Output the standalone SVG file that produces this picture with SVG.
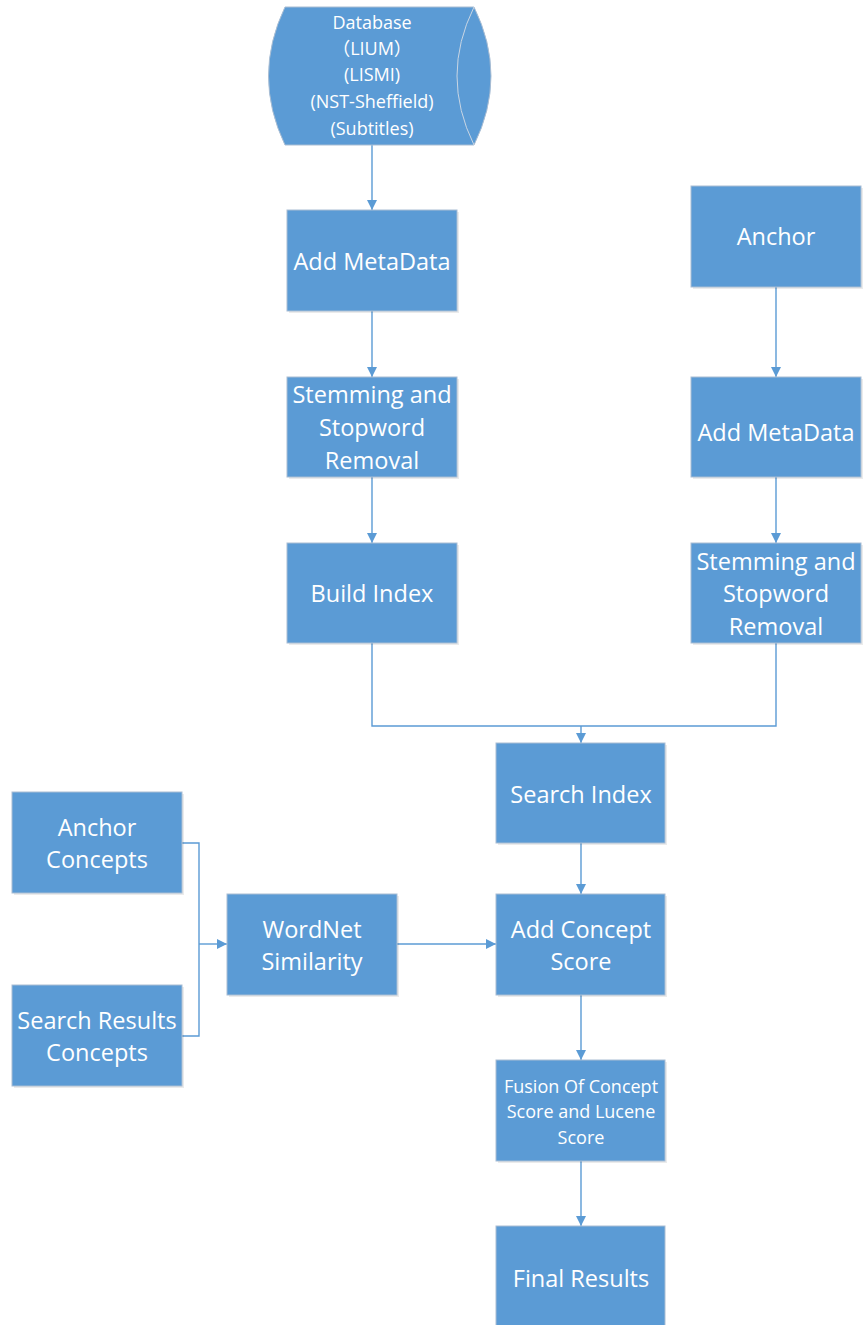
<svg xmlns="http://www.w3.org/2000/svg" width="863" height="1325" viewBox="0 0 863 1325">
  <style>
    .box { fill: #5b9bd5; stroke: #a9bdd3; stroke-width: 1; }
    .shadow { fill: #000; opacity: 0.08; }
    .lbl { fill: #ffffff; font-family: "Open Sans", "Liberation Sans", "Noto Sans CJK SC", sans-serif; font-size: 23.5px; text-anchor: middle; }
    .sm { font-size: 18px; }
    .db { font-size: 18px; }
    .cjk { font-family: "Noto Sans CJK SC", sans-serif; }
    .wire { fill: none; stroke: #5b9bd5; stroke-width: 1.4; }
  </style>
  <defs>
    <marker id="arr" viewBox="0 0 10 10" refX="10" refY="5" markerWidth="10" markerHeight="10" markerUnits="userSpaceOnUse" orient="auto">
      <path d="M0,0 L10,5 L0,10 Z" fill="#5b9bd5"/>
    </marker>
  </defs>

  <!-- connectors -->
  <g id="connectors">
    <path class="wire" d="M372,145 V210" marker-end="url(#arr)"/>
    <path class="wire" d="M372,311 V377" marker-end="url(#arr)"/>
    <path class="wire" d="M372,477 V543" marker-end="url(#arr)"/>
    <path class="wire" d="M776,287 V377" marker-end="url(#arr)"/>
    <path class="wire" d="M776,477 V543" marker-end="url(#arr)"/>
    <path class="wire" d="M372,643 V726 H776 V643"/>
    <path class="wire" d="M581,726 V743" marker-end="url(#arr)"/>
    <path class="wire" d="M581,843 V894" marker-end="url(#arr)"/>
    <path class="wire" d="M581,995 V1060" marker-end="url(#arr)"/>
    <path class="wire" d="M581,1161 V1226" marker-end="url(#arr)"/>
    <path class="wire" d="M182,843 H199 V1036 H182"/>
    <path class="wire" d="M199,944 H227" marker-end="url(#arr)"/>
    <path class="wire" d="M397,944 H496" marker-end="url(#arr)"/>
  </g>

  <!-- database cylinder -->
  <g id="database">
    <path class="box" d="M285,7 H474 Q508,76 474,145 H285 Q252,76 285,7 Z"/>
    <path d="M474,7 Q440,76 474,145" fill="none" stroke="#c9d6e4" stroke-width="1"/>
    <text class="lbl db" x="372" y="29">Database</text>
    <text class="lbl db" x="372" y="55"><tspan class="cjk">（</tspan>LIUM<tspan class="cjk">）</tspan></text>
    <text class="lbl db" x="372" y="81">(LISMI)</text>
    <text class="lbl db" x="372" y="108">(NST-Sheffield)</text>
    <text class="lbl db" x="372" y="135">(Subtitles)</text>
  </g>

  <g id="add-metadata-1">
    <rect class="shadow" x="289" y="212" width="170" height="101"/>
    <rect class="box" x="287" y="210" width="170" height="101"/>
    <text class="lbl" x="372" y="270">Add MetaData</text>
  </g>
  <g id="stemming-1">
    <rect class="shadow" x="289" y="379" width="170" height="100"/>
    <rect class="box" x="287" y="377" width="170" height="100"/>
    <text class="lbl" x="372" y="403">Stemming and</text>
    <text class="lbl" x="372" y="436">Stopword</text>
    <text class="lbl" x="372" y="469">Removal</text>
  </g>
  <g id="build-index">
    <rect class="shadow" x="289" y="545" width="170" height="100"/>
    <rect class="box" x="287" y="543" width="170" height="100"/>
    <text class="lbl" x="372" y="602">Build Index</text>
  </g>

  <g id="anchor">
    <rect class="shadow" x="693" y="188" width="170" height="101"/>
    <rect class="box" x="691" y="186" width="170" height="101"/>
    <text class="lbl" x="776" y="245">Anchor</text>
  </g>
  <g id="add-metadata-2">
    <rect class="shadow" x="693" y="379" width="170" height="100"/>
    <rect class="box" x="691" y="377" width="170" height="100"/>
    <text class="lbl" x="776" y="441">Add MetaData</text>
  </g>
  <g id="stemming-2">
    <rect class="shadow" x="693" y="545" width="170" height="100"/>
    <rect class="box" x="691" y="543" width="170" height="100"/>
    <text class="lbl" x="776" y="570">Stemming and</text>
    <text class="lbl" x="776" y="602">Stopword</text>
    <text class="lbl" x="776" y="635">Removal</text>
  </g>

  <g id="search-index">
    <rect class="shadow" x="498" y="745" width="169" height="100"/>
    <rect class="box" x="496" y="743" width="169" height="100"/>
    <text class="lbl" x="581" y="803">Search Index</text>
  </g>
  <g id="add-concept-score">
    <rect class="shadow" x="498" y="896" width="169" height="101"/>
    <rect class="box" x="496" y="894" width="169" height="101"/>
    <text class="lbl" x="581" y="938">Add Concept</text>
    <text class="lbl" x="581" y="970">Score</text>
  </g>
  <g id="fusion">
    <rect class="shadow" x="498" y="1062" width="169" height="101"/>
    <rect class="box" x="496" y="1060" width="169" height="101"/>
    <text class="lbl sm" x="581" y="1093">Fusion Of Concept</text>
    <text class="lbl sm" x="581" y="1118">Score and Lucene</text>
    <text class="lbl sm" x="581" y="1144">Score</text>
  </g>
  <g id="final-results">
    <rect class="box" x="496" y="1226" width="169" height="104"/>
    <text class="lbl" x="581" y="1287">Final Results</text>
  </g>

  <g id="anchor-concepts">
    <rect class="shadow" x="14" y="794" width="170" height="101"/>
    <rect class="box" x="12" y="792" width="170" height="101"/>
    <text class="lbl" x="97" y="836">Anchor</text>
    <text class="lbl" x="97" y="868">Concepts</text>
  </g>
  <g id="search-results-concepts">
    <rect class="shadow" x="14" y="987" width="170" height="101"/>
    <rect class="box" x="12" y="985" width="170" height="101"/>
    <text class="lbl" x="97" y="1029">Search Results</text>
    <text class="lbl" x="97" y="1061">Concepts</text>
  </g>
  <g id="wordnet-similarity">
    <rect class="shadow" x="229" y="896" width="170" height="101"/>
    <rect class="box" x="227" y="894" width="170" height="101"/>
    <text class="lbl" x="312" y="938">WordNet</text>
    <text class="lbl" x="312" y="970">Similarity</text>
  </g>
</svg>
